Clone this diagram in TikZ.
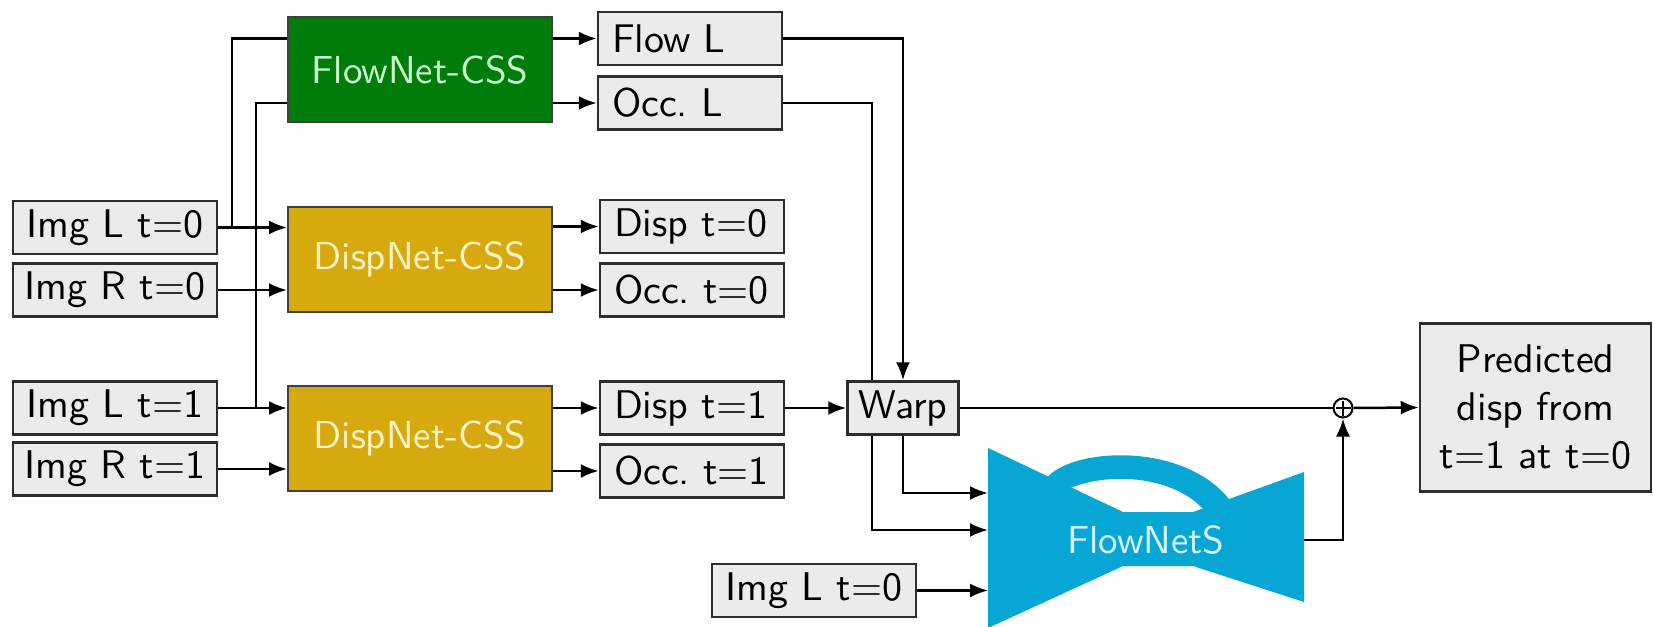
\documentclass[tikz,border=0pt]{standalone}
\usepackage{fontspec}
\setsansfont{lmsans10-regular.otf}
\usetikzlibrary{arrows.meta,calc}
\definecolor{fgreen}{RGB}{0,124,10}
\definecolor{fgreentext}{RGB}{205,255,205}
\definecolor{dgold}{RGB}{214,170,14}
\definecolor{dgoldtext}{RGB}{255,243,195}
\definecolor{fcyan}{RGB}{8,166,212}
\definecolor{fcyantext}{RGB}{215,245,255}
\definecolor{boxgray}{RGB}{235,235,235}
\definecolor{edgegray}{RGB}{45,45,45}
\pgfdeclarelayer{bg}
\pgfsetlayers{bg,main}
\begin{document}
\begin{tikzpicture}[x=1pt,y=-1pt,
  every node/.style={font=\sffamily\fontsize{40}{48}\selectfont},
  graybox/.style={draw=edgegray,line width=2.5pt,fill=boxgray,inner sep=0pt,minimum height=53pt},
  imgbox/.style={graybox,minimum width=204pt},
  outbox/.style={graybox,text width=156pt,inner xsep=14pt,align=left},
  netbox/.style={draw=black!75,line width=2pt,minimum width=264pt,minimum height=105pt,inner sep=0pt,font=\sffamily\fontsize{39}{47}\selectfont},
  conn/.style={line width=2.5pt,black},
  arr/.style={conn,-{Latex[length=18pt,width=14pt]}},
]
\useasboundingbox (0,0) rectangle (1653,626);
% inputs
\node[imgbox] (il0) at (115,227.5) {Img L t=0};
\node[imgbox] (ir0) at (115,290) {Img R t=0};
\node[imgbox] (il1) at (115,408) {Img L t=1};
\node[imgbox] (ir1) at (115,469) {Img R t=1};
% networks
\node[netbox,fill=fgreen,text=fgreentext] (fn) at (420,69.5) {FlowNet-CSS};
\node[netbox,fill=dgold,text=dgoldtext] (dn0) at (420,259.5) {DispNet-CSS};
\node[netbox,fill=dgold,text=dgoldtext] (dn1) at (420,438.5) {DispNet-CSS};
% outputs
\node[outbox] (flow) at (690,38.5) {Flow L};
\node[outbox] (occl) at (690,103) {Occ.\ L};
\node[outbox] (disp0) at (692,226.5) {Disp t=0};
\node[outbox] (occ0) at (692,290) {Occ.\ t=0};
\node[outbox] (disp1) at (692,408) {Disp t=1};
\node[outbox] (occ1) at (692,471) {Occ.\ t=1};
\node[graybox,minimum width=111pt] (warp) at (903,408) {Warp};
\node[graybox,minimum width=231pt,minimum height=168pt,align=center] (pred) at (1535.5,407.5) {Predicted\\disp from\\t=1 at t=0};
\node[imgbox] (il0b) at (814,590.5) {Img L t=0};
\node[circle,draw,line width=2pt,minimum size=19pt,inner sep=0pt] (plus) at (1343,408) {};
\draw[line width=1.3pt] ($(plus.north)+(0,3)$) -- ($(plus.south)+(0,-3)$) ($(plus.west)+(3,0)$) -- ($(plus.east)+(-3,0)$);
% FlowNetS shape
\fill[fcyan] (988,448) -- (1123,512) -- (1193,512) -- (1304,472) -- (1304,602) -- (1193,566) -- (1123,566) -- (988,628) -- cycle;
\fill[fcyan] (1044,482) .. controls (1062,448) and (1185,438) .. (1232,503) -- (1203,509) .. controls (1175,478) and (1112,470) .. (1068,489) -- cycle;
\node[text=fcyantext,font=\sffamily\fontsize{39}{47}\selectfont] (fns) at (1146,540) {FlowNetS};
\coordinate (fnsA) at (988,493);
\coordinate (fnsB) at (988,530);
\coordinate (fnsC) at (988,590.5);
\coordinate (fnsout) at (1304,540);
\coordinate (j1) at (232,0);
\coordinate (j2) at (256,0);
\coordinate (j3) at (872,0);
% connectors
\draw[arr] (il0.east) -- (dn0.west |- il0.east);
\draw[conn] (il0.east -| j1) |- (fn.west |- flow.west);
\draw[arr] (ir0.east) -- (dn0.west |- ir0.east);
\draw[arr] (il1.east) -- (dn1.west |- il1.east);
\draw[conn] (il1.east -| j2) |- (fn.west |- occl.west);
\draw[arr] (ir1.east) -- (dn1.west |- ir1.east);
\draw[arr] (fn.east |- flow.west) -- (flow.west);
\draw[arr] (fn.east |- occl.west) -- (occl.west);
\draw[arr] (dn0.east |- disp0.west) -- (disp0.west);
\draw[arr] (dn0.east |- occ0.west) -- (occ0.west);
\draw[arr] (dn1.east |- disp1.west) -- (disp1.west);
\draw[arr] (dn1.east |- occ1.west) -- (occ1.west);
\draw[arr] (flow.east) -| (warp.north);
\begin{pgfonlayer}{bg}
\draw[arr] (occl.east) -| (j3 |- fnsB) -- (fnsB);
\end{pgfonlayer}
\draw[arr] (warp.south) |- (fnsA);
\draw[arr] (il0b.east) -- (fnsC);
\draw[arr] (disp1.east) -- (warp.west);
\draw[conn] (warp.east) -- (plus.west);
\draw[arr] (plus.east) -- (pred.west);
\draw[arr] (fnsout) -| (plus.south);
\end{tikzpicture}
\end{document}
